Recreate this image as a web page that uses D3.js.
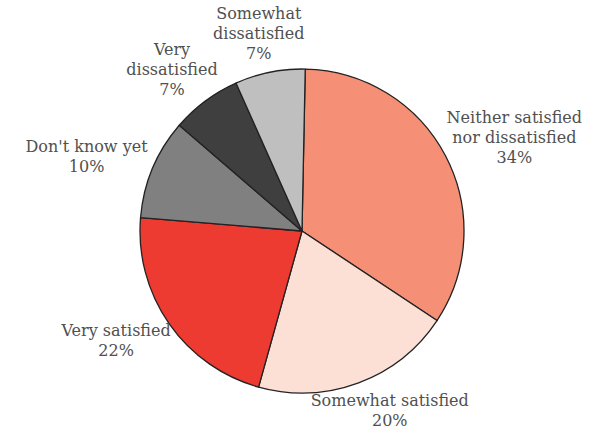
<!DOCTYPE html>
<html>
<head>
<meta charset="utf-8">
<script src="https://cdn.jsdelivr.net/npm/d3@7"></script>
<style>
  html, body { margin: 0; padding: 0; background: #ffffff; }
  svg { display: block; }
  .lbl { font-family: "DejaVu Serif", serif; font-size: 16px; fill: #505050; }
</style>
</head>
<body>
<svg id="chart" width="604" height="439"></svg>
<script>
// Survey responses, clockwise from the top
const categories = [
  ["Neither satisfied", "nor dissatisfied"],
  ["Somewhat satisfied"],
  ["Very satisfied"],
  ["Don't know yet"],
  ["Very", "dissatisfied"],
  ["Somewhat", "dissatisfied"]
];
const shares = [34, 20, 22, 10, 7, 7];
const sliceColors = ["#f58f75", "#fcdfd5", "#ee3b31", "#808080", "#3f3f3f", "#bfbfbf"];

const svg = d3.select("#chart");
const cx = 302, cy = 231, radius = 162;

const data = categories.map((c, i) => ({ lines: c, value: shares[i], color: sliceColors[i] }));

const pie = d3.pie().sort(null).value(d => d.value).startAngle(0.02).endAngle(0.02 + 2 * Math.PI);
const arc = d3.arc().innerRadius(0).outerRadius(radius);
const arcs = pie(data);

const g = svg.append("g").attr("transform", `translate(${cx},${cy})`);

g.selectAll("path.slice")
  .data(arcs)
  .join("path")
  .attr("class", "slice")
  .attr("d", arc)
  .attr("fill", d => d.data.color)
  .attr("stroke", "#222222")
  .attr("stroke-width", 1.3)
  .attr("stroke-linejoin", "round");

// Labels: block of lines placed just outside the rim at each slice's mid-angle
const lineH = 20;
const labelG = g.selectAll("g.label")
  .data(arcs)
  .join("g")
  .attr("class", "label");

labelG.each(function(d) {
  const el = d3.select(this);
  const lines = d.data.lines.concat([d.data.value + "%"]);
  const text = el.append("text").attr("class", "lbl").attr("text-anchor", "middle");
  lines.forEach((l, i) => {
    text.append("tspan").attr("x", 0).attr("y", i * lineH).text(l);
  });
  const bb = text.node().getBBox();
  const mid = (d.startAngle + d.endAngle) / 2;
  const r0 = radius + 10;
  const px = Math.sin(mid) * r0, py = -Math.cos(mid) * r0;
  const ccx = px + Math.sin(mid) * bb.width / 2;
  const ccy = py - Math.cos(mid) * bb.height / 2;
  const bcx = bb.x + bb.width / 2, bcy = bb.y + bb.height / 2;
  el.attr("transform", `translate(${ccx - bcx},${ccy - bcy})`);
});
</script>
</body>
</html>
